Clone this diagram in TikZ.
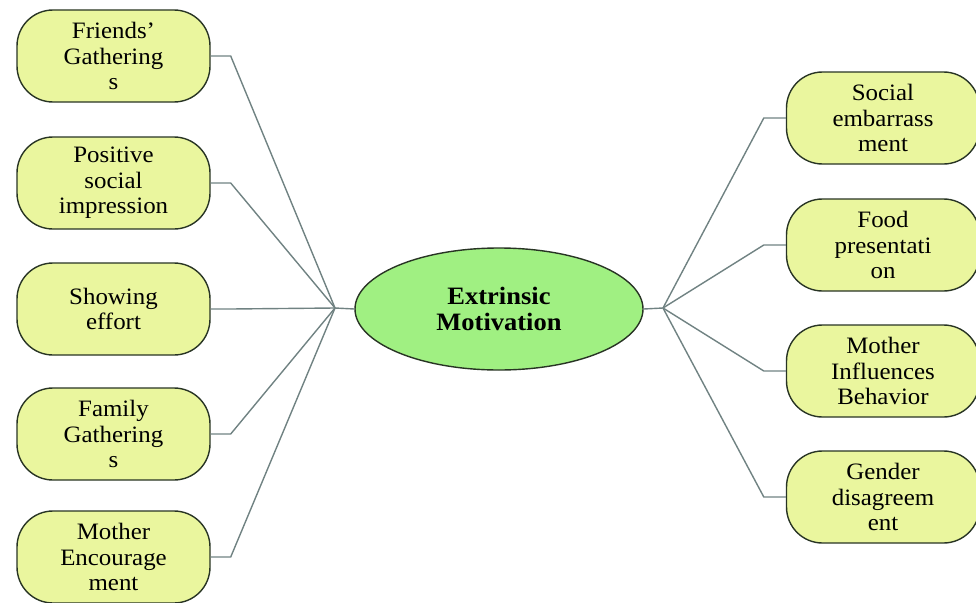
\documentclass[tikz,border=0pt]{standalone}
\usepackage{fontspec}
\setmainfont{Liberation Serif}[FakeStretch=1.06]
\usetikzlibrary{shapes.geometric}
\definecolor{boxfill}{RGB}{234,246,158}
\definecolor{ellfill}{RGB}{160,240,130}
\definecolor{edgecol}{RGB}{40,52,36}
\definecolor{wirecol}{RGB}{112,130,130}
\begin{document}
\begin{tikzpicture}[x=1pt,y=-1pt,
  leaf/.style={draw=edgecol, line width=1.4pt, fill=boxfill, rounded corners=36pt,
    minimum width=193pt, minimum height=92pt, inner sep=0pt, align=center,
    font=\fontsize{23.5}{25.5}\selectfont},
  core/.style={ellipse, draw=edgecol, line width=1.4pt, fill=ellfill,
    minimum width=288pt, minimum height=122pt, inner sep=0pt, align=center,
    font=\bfseries\fontsize{25}{26}\selectfont},
  wire/.style={draw=wirecol, line width=1.4pt}]
\useasboundingbox (0,0) rectangle (976,602);

% central topic
\node[core] (em) at (499,309) {Extrinsic\\Motivation};
\coordinate (hl) at (335,308);
\coordinate (hr) at (663,308);

% left branch
\node[leaf] (l1) at (113.5,56)  {Friends’\\Gathering\\s};
\node[leaf] (l2) at (113.5,183) {Positive\\social\\impression};
\node[leaf] (l3) at (113.5,309) {Showing\\effort};
\node[leaf] (l4) at (113.5,434) {Family\\Gathering\\s};
\node[leaf] (l5) at (113.5,557) {Mother\\Encourage\\ment};

% right branch
\node[leaf] (r1) at (883,118) {Social\\embarrass\\ment};
\node[leaf] (r2) at (883,245) {Food\\presentati\\on};
\node[leaf] (r3) at (883,371) {Mother\\Influences\\Behavior};
\node[leaf] (r4) at (883,497) {Gender\\disagreem\\ent};

% connectors
\draw[wire] (em.west) -- (hl);
\draw[wire] (em.east) -- (hr);
\foreach \n in {l1,l2,l3,l4,l5}
  \draw[wire] (\n.east) -- ++(20,0) -- (hl);
\foreach \n in {r1,r2,r3,r4}
  \draw[wire] (\n.west) -- ++(-22,0) -- (hr);
\end{tikzpicture}
\end{document}
